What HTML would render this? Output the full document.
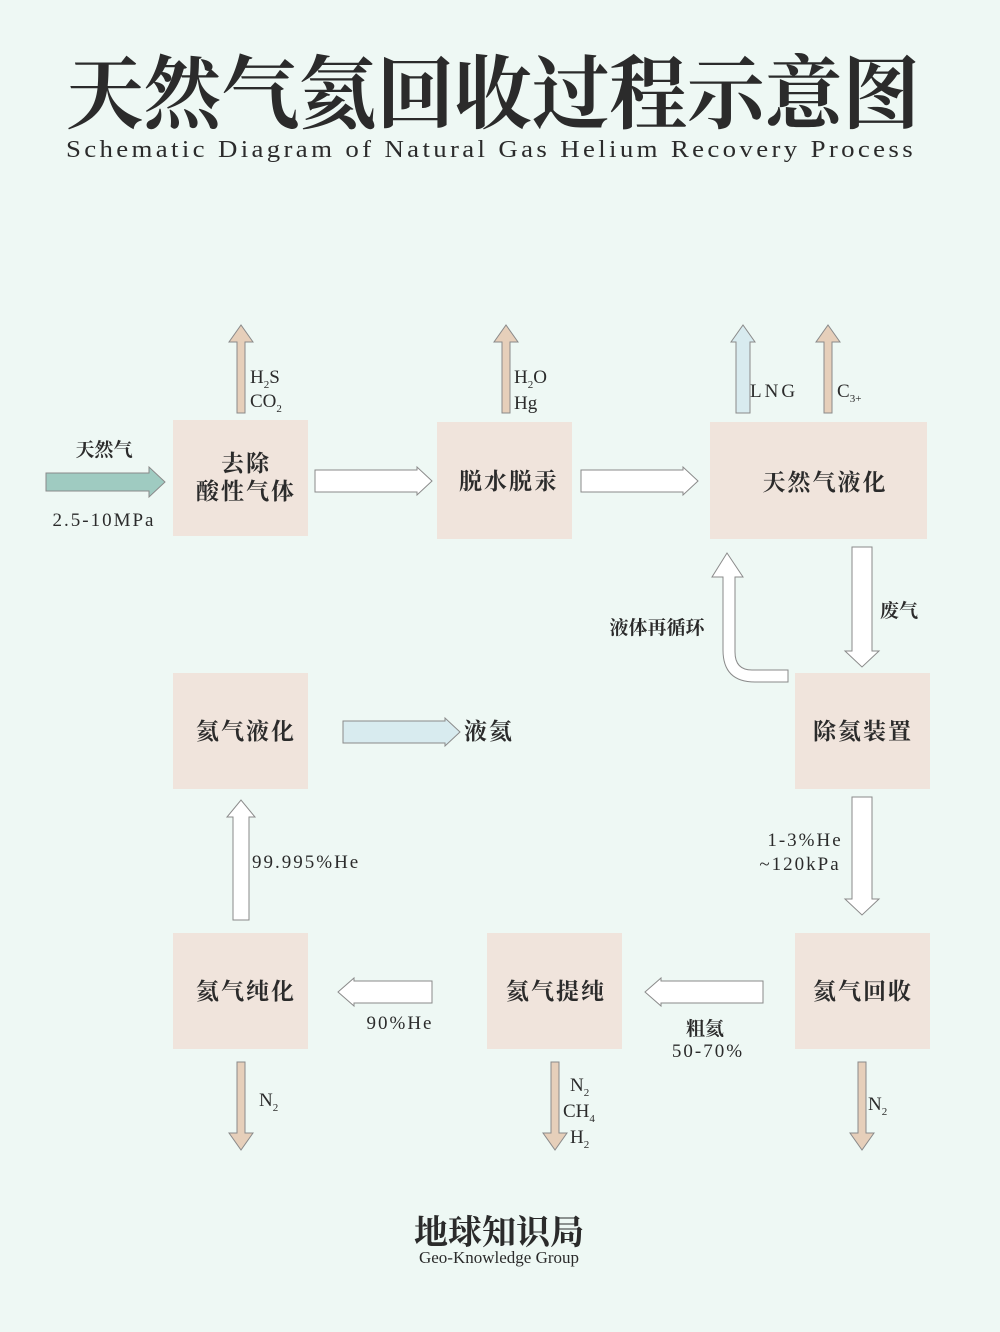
<!DOCTYPE html>
<html><head><meta charset="utf-8"><style>
html,body{margin:0;padding:0;background:#eef8f4;}
svg{display:block;}
text{font-family:"Liberation Serif","Noto Serif CJK SC",serif;fill:#2b2b2b;}
</style></head><body>
<svg width="1000" height="1332" viewBox="0 0 1000 1332" xmlns="http://www.w3.org/2000/svg">
<rect width="1000" height="1332" fill="#eef8f4"/>
<text x="66" y="122" font-size="80" font-weight="bold" textLength="854" lengthAdjust="spacingAndGlyphs" fill="#333">天然气氦回收过程示意图</text>
<text x="66" y="157" font-size="24" textLength="850" lengthAdjust="spacingAndGlyphs" fill="#333" letter-spacing="3">Schematic Diagram of Natural Gas Helium Recovery Process</text>

<g fill="#f0e4dc">
<rect x="173" y="420" width="135" height="116"/>
<rect x="437" y="422" width="135" height="117"/>
<rect x="710" y="422" width="217" height="117"/>
<rect x="795" y="673" width="135" height="116"/>
<rect x="173" y="673" width="135" height="116"/>
<rect x="795" y="933" width="135" height="116"/>
<rect x="487" y="933" width="135" height="116"/>
<rect x="173" y="933" width="135" height="116"/>
</g>

<g stroke="#8a8a8a" stroke-width="1">
<polygon fill="#9fcbc1" points="46,473 149,473 149,467 165,482 149,497 149,491 46,491"/>
<polygon fill="#fff" points="315,470 417,470 417,467 432,481 417,495 417,492 315,492"/>
<polygon fill="#fff" points="581,470 683,470 683,467 698,481 683,495 683,492 581,492"/>
<polygon fill="#d8ebef" points="343,721 445,721 445,718 460,732 445,746 445,743 343,743"/>
<polygon fill="#fff" points="432,981 354,981 354,978 338,992 354,1006 354,1003 432,1003"/>
<polygon fill="#fff" points="763,981 661,981 661,978 645,992 661,1006 661,1003 763,1003"/>
<polygon fill="#e6cfba" points="237,413 237,342 229,342 241,325 253,342 245,342 245,413"/>
<polygon fill="#e6cfba" points="502,413 502,342 494,342 506,325 518,342 510,342 510,413"/>
<polygon fill="#d8ebef" points="736,413 736,342 731,342 743,325 755,342 750,342 750,413"/>
<polygon fill="#e6cfba" points="824,413 824,342 816,342 828,325 840,342 832,342 832,413"/>
<polygon fill="#fff" points="852,547 872,547 872,651 879,651 862,667 845,651 852,651"/>
<polygon fill="#fff" points="852,797 872,797 872,899 879,899 862,915 845,899 852,899"/>
<polygon fill="#fff" points="233,920 233,817 227,817 241,800 255,817 249,817 249,920"/>
<polygon fill="#e6cfba" points="237,1062 245,1062 245,1133 253,1133 241,1150 229,1133 237,1133"/>
<polygon fill="#e6cfba" points="551,1062 559,1062 559,1133 567,1133 555,1150 543,1133 551,1133"/>
<polygon fill="#e6cfba" points="858,1062 866,1062 866,1133 874,1133 862,1150 850,1133 858,1133"/>
<path fill="#fff" d="M788,670 L752,670 Q735,670 735,652 L735,577 L743,577 L727,553 L712,577 L723,577 L723,650 Q723,682 755,682 L788,682 Z"/>
</g>

<g font-size="23" font-weight="bold" text-anchor="middle" letter-spacing="2">
<text x="246" y="471">去除</text>
<text x="246" y="499">酸性气体</text>
<text x="509" y="489">脱水脱汞</text>
<text x="825" y="490">天然气液化</text>
<text x="863" y="739">除氦装置</text>
<text x="246" y="739">氦气液化</text>
<text x="863" y="999">氦气回收</text>
<text x="556" y="999">氦气提纯</text>
<text x="246" y="999">氦气纯化</text>
<text x="489" y="739">液氦</text>
</g>

<g font-size="19">
<text x="104" y="456" text-anchor="middle" font-weight="bold">天然气</text>
<text x="104" y="526" text-anchor="middle" letter-spacing="2">2.5-10MPa</text>
<text x="250" y="383">H<tspan font-size="11" dy="5">2</tspan><tspan dy="-5">S</tspan></text>
<text x="250" y="407">CO<tspan font-size="11" dy="5">2</tspan></text>
<text x="514" y="383">H<tspan font-size="11" dy="5">2</tspan><tspan dy="-5">O</tspan></text>
<text x="514" y="409">Hg</text>
<text x="750" y="397" letter-spacing="3">LNG</text>
<text x="837" y="397">C<tspan font-size="11" dy="5">3+</tspan></text>
<text x="880" y="617" font-weight="bold">废气</text>
<text x="657" y="634" text-anchor="middle" font-weight="bold">液体再循环</text>
<text x="252" y="868" letter-spacing="2">99.995%He</text>
<text x="805" y="846" text-anchor="middle" letter-spacing="2">1-3%He</text>
<text x="800" y="870" text-anchor="middle" letter-spacing="2">~120kPa</text>
<text x="400" y="1029" text-anchor="middle" letter-spacing="2">90%He</text>
<text x="705" y="1035" text-anchor="middle" font-weight="bold">粗氦</text>
<text x="708" y="1057" text-anchor="middle" letter-spacing="2">50-70%</text>
<text x="259" y="1106">N<tspan font-size="11" dy="5">2</tspan></text>
<text x="570" y="1091">N<tspan font-size="11" dy="5">2</tspan></text>
<text x="563" y="1117">CH<tspan font-size="11" dy="5">4</tspan></text>
<text x="570" y="1143">H<tspan font-size="11" dy="5">2</tspan></text>
<text x="868" y="1110">N<tspan font-size="11" dy="5">2</tspan></text>
</g>

<text x="499" y="1244" font-size="34" font-weight="bold" text-anchor="middle" fill="#3a3a3a">地球知识局</text>
<text x="499" y="1263" font-size="17" text-anchor="middle" fill="#444">Geo-Knowledge Group</text>
</svg>
</body></html>
